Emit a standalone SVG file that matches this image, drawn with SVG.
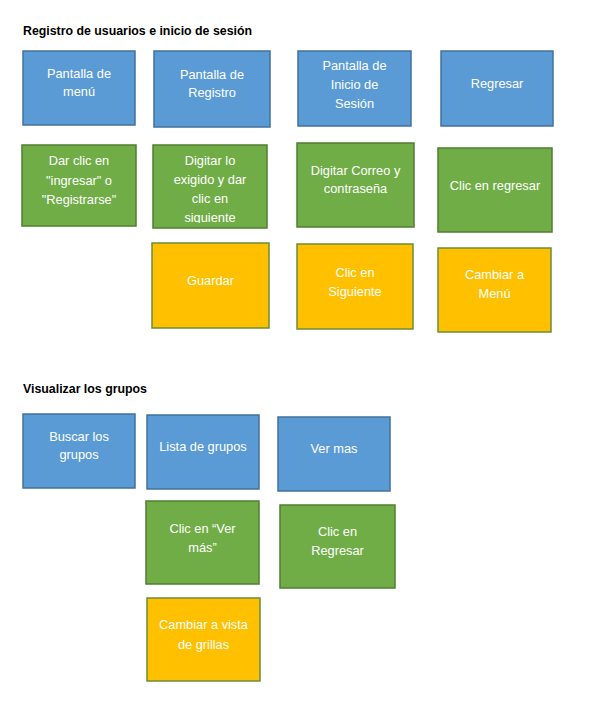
<svg xmlns="http://www.w3.org/2000/svg" width="599" height="715" viewBox="0 0 599 715">
<style>
.t{font-family:"Liberation Sans",Arial,sans-serif;font-weight:bold;font-size:12.5px;fill:#000}
.b{fill:#5B9BD5;stroke:#41719C;stroke-width:1.5}
.g{fill:#70AD47;stroke:#507E32;stroke-width:1.5}
.y{fill:#FFC000;stroke:#6A8E3A;stroke-width:1.5}
.l{font-family:"Liberation Sans",Arial,sans-serif;font-size:12.8px;fill:#fff;text-anchor:middle}
</style>
<defs>
<clipPath id="c1"><rect x="153" y="145" width="114" height="78"/></clipPath>
</defs>
<rect width="599" height="715" fill="#fff"/>
<text class="t" x="23" y="35" textLength="229" lengthAdjust="spacingAndGlyphs">Registro de usuarios e inicio de sesión</text>
<text class="t" x="23" y="393" textLength="124" lengthAdjust="spacingAndGlyphs">Visualizar los grupos</text>
<g id="connectors"></g>
<g id="n1"><rect class="b" x="23" y="51" width="112" height="74"/><text class="l" x="79" y="78">Pantalla de</text><text class="l" x="79" y="96">menú</text></g>
<g id="n2"><rect class="b" x="154" y="51" width="116" height="76"/><text class="l" x="212" y="79">Pantalla de</text><text class="l" x="212" y="97">Registro</text></g>
<g id="n3"><rect class="b" x="298" y="51" width="113" height="75"/><text class="l" x="354.5" y="70">Pantalla de</text><text class="l" x="354.5" y="89">Inicio de</text><text class="l" x="354.5" y="108">Sesión</text></g>
<g id="n4"><rect class="b" x="441" y="51" width="112" height="75"/><text class="l" x="497" y="88">Regresar</text></g>
<g id="n5"><rect class="g" x="22" y="145" width="114" height="81"/><text class="l" x="79" y="165">Dar clic en</text><text class="l" x="79" y="185">"ingresar" o</text><text class="l" x="79" y="204">"Registrarse"</text></g>
<g id="n6"><rect class="g" x="153" y="145" width="114" height="83"/><g clip-path="url(#c1)"><text class="l" x="210" y="165">Digitar lo</text><text class="l" x="210" y="184">exigido y dar</text><text class="l" x="210" y="203">clic en</text><text class="l" x="210" y="222">siguiente</text></g></g>
<g id="n7"><rect class="g" x="297" y="143" width="117" height="84"/><text class="l" x="355.5" y="175">Digitar Correo y</text><text class="l" x="355.5" y="193">contraseña</text></g>
<g id="n8"><rect class="g" x="438" y="148" width="114" height="84"/><text class="l" x="495" y="190">Clic en regresar</text></g>
<g id="n9"><rect class="y" x="152" y="243" width="117" height="85"/><text class="l" x="210.5" y="285">Guardar</text></g>
<g id="n10"><rect class="y" x="297" y="244" width="116" height="85"/><text class="l" x="355" y="277">Clic en</text><text class="l" x="355" y="296">Siguiente</text></g>
<g id="n11"><rect class="y" x="438" y="248" width="113" height="84"/><text class="l" x="494.5" y="279">Cambiar a</text><text class="l" x="494.5" y="298">Menú</text></g>
<g id="n12"><rect class="b" x="23" y="414" width="112" height="74"/><text class="l" x="79" y="441">Buscar los</text><text class="l" x="79" y="459">grupos</text></g>
<g id="n13"><rect class="b" x="147" y="415" width="112" height="74"/><text class="l" x="203" y="451">Lista de grupos</text></g>
<g id="n14"><rect class="b" x="278" y="417" width="112" height="74"/><text class="l" x="334" y="453">Ver mas</text></g>
<g id="n15"><rect class="g" x="146" y="501" width="113" height="83"/><text class="l" x="202.5" y="533">Clic en “Ver</text><text class="l" x="202.5" y="552">más”</text></g>
<g id="n16"><rect class="g" x="280" y="505" width="115" height="83"/><text class="l" x="337.5" y="536">Clic en</text><text class="l" x="337.5" y="555">Regresar</text></g>
<g id="n17"><rect class="y" x="147" y="598" width="113" height="83"/><text class="l" x="203.5" y="629">Cambiar a vista</text><text class="l" x="203.5" y="649">de grillas</text></g>
</svg>
